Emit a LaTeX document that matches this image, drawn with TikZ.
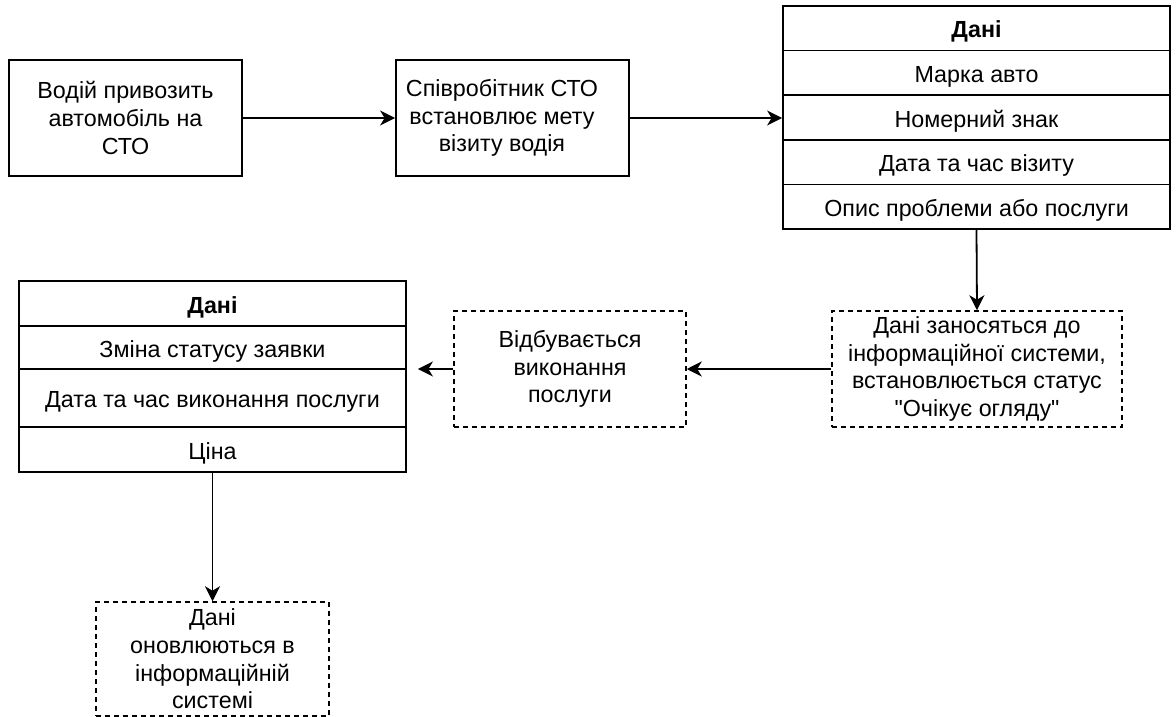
\documentclass[tikz,border=0pt]{standalone}
\usepackage{fontspec}
\setmainfont{Liberation Sans}
\usetikzlibrary{arrows.meta}
\newcommand\straightquote{\XeTeXglyph\XeTeXcharglyph"22\relax}
\begin{document}
\begin{tikzpicture}[x=1pt,y=-1pt,
  every node/.style={font=\fontsize{23.3}{27.7}\selectfont, text=black, inner sep=0pt},
  box/.style={draw, line width=1.8pt, minimum width=233pt, minimum height=116pt, align=center},
  dbox/.style={draw, line width=1.5pt, dash pattern=on 5pt off 4pt, minimum height=116pt, align=center},
  cell/.style={draw, line width=1.8pt, minimum width=387pt, anchor=north, outer sep=0pt, text height=21pt, text depth=2pt, align=center},
  frame/.style={draw, line width=1.8pt, minimum width=387pt},
  boldtext/.style={font=\fontsize{23.3}{27.7}\selectfont\bfseries},
  conn/.style={line width=1.8pt, -{Stealth[length=15pt,width=15pt,inset=4.5pt]}}
]
\useasboundingbox (0,0) rectangle (1176,717);

% top row boxes
\node[box] (b1) at (125.5,118) {Водій привозить\\автомобіль на\\СТО};
\node[box] (b2) at (512.5,118) {};
\node[align=center] (b2t) at (502,118) {Співробітник СТО\\встановлює мету\\візиту водія};

% table 1
\node[frame, minimum height=223pt] (t1) at (976.5,117.5) {};
\node[cell, minimum height=44.6pt, boldtext] (t1h) at (976.5,6) {Дані};
\node[cell, minimum height=44.6pt] (t1a) at (t1h.south) {Марка авто};
\node[cell, minimum height=44.6pt] (t1b) at (t1a.south) {Номерний знак};
\node[cell, minimum height=44.6pt] (t1c) at (t1b.south) {Дата та час візиту};
\node[cell, minimum height=44.6pt] (t1d) at (t1c.south) {Опис проблеми або послуги};

% dashed boxes middle row
\node[dbox, minimum width=290pt] (ds1) at (977,369) {Дані заносяться до\\інформаційної системи,\\встановлюється статус\\\straightquote Очікує огляду\straightquote};
\node[dbox, minimum width=232pt] (ds2) at (570,369) {Відбувається\\виконання\\послуги};

% table 2
\node[frame, minimum height=191pt] (t2) at (212.5,376.5) {};
\node[cell, minimum height=45pt, boldtext] (t2h) at (212.5,281) {Дані};
\node[cell, minimum height=43pt] (t2a) at (t2h.south) {Зміна статусу заявки};
\node[cell, minimum height=58pt] (t2b) at (t2a.south) {Дата та час виконання послуги};
\node[cell, minimum height=45pt] (t2c) at (t2b.south) {Ціна};

% bottom dashed box
\node[dbox, minimum width=233pt, minimum height=114pt] (ds3) at (212.5,659) {Дані\\оновлюються в\\інформаційній\\системі};

% connectors
\draw[conn] (b1.east) -- (b2.west);
\draw[conn] (b2.east) -- (b2.east -| t1.west);
\draw[conn] (t1.south) -- (ds1.north);
\draw[conn] (ds1.west) -- (ds2.east);
\draw[conn, shorten >=11pt] (ds2.west) -- (ds2.west -| t2.east);
\draw[conn] (t2.south) -- (ds3.north);
\end{tikzpicture}
\end{document}
